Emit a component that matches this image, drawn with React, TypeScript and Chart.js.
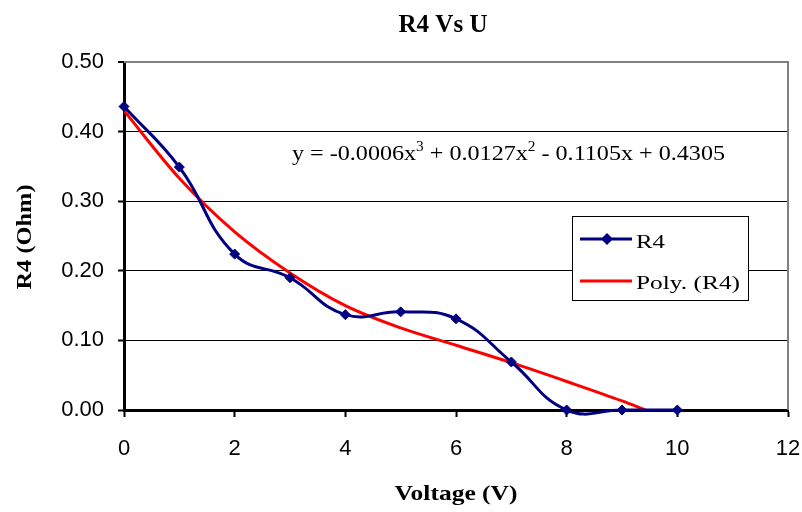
import React, { useEffect, useRef } from "react";
import { Chart, registerables } from "chart.js";

Chart.register(...registerables);

const chartTitle = "R4 Vs U";
const xAxisTitle = "Voltage (V)";
const yAxisTitle = "R4 (Ohm)";
const seriesName = "R4";
const trendName = "Poly. (R4)";
const equationParts = ["y = -0.0006x", "3", " + 0.0127x", "2", " - 0.1105x + 0.4305"];

const r4X = [0, 1, 2, 3, 4, 5, 6, 7, 8, 9, 10];
const r4Y = [0.436, 0.349, 0.224, 0.19, 0.137, 0.141, 0.131, 0.069, 0.0, 0.0, 0.0];
const polyX = [0, 1, 2, 3, 4, 5, 6, 7, 8, 9, 9.42];
const polyY = [0.43, 0.333, 0.256, 0.197, 0.15, 0.118, 0.093, 0.068, 0.041, 0.013, 0.0];

const xMin = 0, xMax = 12, xStep = 2;
const yMin = 0, yMax = 0.5, yStep = 0.1;

const NAVY = "#000080";
const RED = "#FF0000";

function fitText(ctx: CanvasRenderingContext2D, text: string, x: number, y: number, w: number, font: string, align: CanvasTextAlign) {
  ctx.save();
  ctx.font = font;
  const m = ctx.measureText(text).width;
  const s = w / m;
  ctx.translate(x, y);
  ctx.scale(s, 1);
  ctx.textAlign = align;
  ctx.textBaseline = "alphabetic";
  ctx.fillStyle = "#000";
  ctx.fillText(text, 0, 0);
  ctx.restore();
}

const decorPlugin = {
  id: "decor",
  beforeDatasetsDraw(chart: any) {
    const { ctx, chartArea } = chart;
    ctx.save();
    ctx.strokeStyle = "#808080";
    ctx.lineWidth = 2;
    ctx.beginPath();
    ctx.moveTo(chartArea.left, chartArea.top);
    ctx.lineTo(chartArea.right, chartArea.top);
    ctx.lineTo(chartArea.right, chartArea.bottom);
    ctx.stroke();
    ctx.restore();
  },
  afterDatasetsDraw(chart: any) {
    const { ctx } = chart;
    // legend
    ctx.save();
    const bx = 572, by = 216, bw = 176, bh = 84;
    ctx.fillStyle = "#fff";
    ctx.fillRect(bx, by, bw, bh);
    ctx.strokeStyle = "#000";
    ctx.lineWidth = 1;
    ctx.strokeRect(bx + 0.5, by + 0.5, bw, bh);
    ctx.lineWidth = 3;
    ctx.strokeStyle = NAVY;
    ctx.beginPath();
    ctx.moveTo(580, 239);
    ctx.lineTo(632, 239);
    ctx.stroke();
    ctx.fillStyle = NAVY;
    ctx.beginPath();
    ctx.moveTo(607, 233);
    ctx.lineTo(613, 239);
    ctx.lineTo(607, 245);
    ctx.lineTo(601, 239);
    ctx.closePath();
    ctx.fill();
    ctx.strokeStyle = RED;
    ctx.beginPath();
    ctx.moveTo(580, 281);
    ctx.lineTo(632, 281);
    ctx.stroke();
    ctx.restore();
    fitText(ctx, seriesName, 636, 248, 29, "19px 'Liberation Serif'", "left");
    fitText(ctx, trendName, 636, 289, 104, "19px 'Liberation Serif'", "left");

    // equation
    ctx.save();
    const big = "22px 'Liberation Serif'";
    const small = "14px 'Liberation Serif'";
    let total = 0;
    const widths: number[] = [];
    equationParts.forEach((p, i) => {
      ctx.font = i % 2 === 1 ? small : big;
      const w = ctx.measureText(p).width;
      widths.push(w);
      total += w;
    });
    const s = 433 / total;
    ctx.translate(292, 160);
    ctx.scale(s, 1);
    ctx.fillStyle = "#000";
    ctx.textBaseline = "alphabetic";
    let cx = 0;
    equationParts.forEach((p, i) => {
      const sup = i % 2 === 1;
      ctx.font = sup ? small : big;
      ctx.fillText(p, cx, sup ? -9 : 0);
      cx += widths[i];
    });
    ctx.restore();
  },
  afterDraw(chart: any) {
    const { ctx } = chart;
    fitText(ctx, chartTitle, 443, 32, 89, "bold 25px 'Liberation Serif'", "center");
    fitText(ctx, xAxisTitle, 456, 500, 123, "bold 22px 'Liberation Serif'", "center");
    ctx.save();
    ctx.translate(31, 237);
    ctx.rotate(-Math.PI / 2);
    fitText(ctx, yAxisTitle, 0, 0, 105, "bold 22px 'Liberation Serif'", "center");
    ctx.restore();
  },
};

export default function App() {
  const ref = useRef<HTMLCanvasElement | null>(null);
  useEffect(() => {
    document.body.style.margin = "0";
    const canvas = ref.current!;
    const chart = new Chart(canvas, {
      type: "line",
      data: {
        datasets: [
          {
            label: seriesName,
            data: r4X.map((x, i) => ({ x, y: r4Y[i] })),
            borderColor: NAVY,
            backgroundColor: NAVY,
            borderWidth: 3,
            pointStyle: "rectRot",
            pointRadius: 5,
            pointBorderWidth: 1,
            tension: 0.45,
            clip: false as any,
            order: 1,
          },
          {
            label: trendName,
            data: polyX.map((x, i) => ({ x, y: polyY[i] })),
            borderColor: RED,
            backgroundColor: RED,
            borderWidth: 3,
            pointRadius: 0,
            cubicInterpolationMode: "monotone",
            order: 2,
          },
        ],
      },
      options: {
        animation: false,
        responsive: false,
        maintainAspectRatio: false,
        layout: { padding: { left: 0, top: 62, right: 14, bottom: 0 } },
        elements: { line: { capBezierPoints: false } as any },
        plugins: {
          legend: { display: false },
          title: { display: false },
          tooltip: { enabled: false },
        },
        scales: {
          x: {
            type: "linear",
            min: xMin,
            max: xMax,
            border: { color: "#000", width: 3 },
            grid: {
              drawOnChartArea: false,
              drawTicks: true,
              tickLength: 7,
              tickWidth: 2,
              tickColor: "#000",
            },
            ticks: {
              stepSize: xStep,
              color: "#000",
              padding: 19,
              font: { family: "'Liberation Sans'", size: 22 },
              callback: (v: any) => String(v),
            },
            afterFit: (scale: any) => {
              scale.height = 102;
              scale.paddingLeft = 0;
              scale.paddingRight = 0;
            },
          },
          y: {
            type: "linear",
            min: yMin,
            max: yMax,
            border: { color: "#000", width: 3 },
            grid: {
              color: (c: any) => (c.tick && Math.abs(c.tick.value - yMax) < 1e-9 ? "#808080" : "#000"),
              lineWidth: (c: any) => (c.tick && Math.abs(c.tick.value - yMax) < 1e-9 ? 2 : 1),
              drawTicks: true,
              tickLength: 6,
              tickWidth: 2,
              tickColor: "#000",
            },
            ticks: {
              stepSize: yStep,
              color: "#000",
              padding: 14,
              font: { family: "'Liberation Sans'", size: 22 },
              callback: (v: any) => Number(v).toFixed(2),
            },
            afterFit: (scale: any) => {
              scale.width = 124;
              scale.paddingTop = 0;
              scale.paddingBottom = 0;
            },
          },
        },
      },
      plugins: [decorPlugin],
    });
    return () => chart.destroy();
  }, []);
  return (
    <div style={{ width: 802, height: 512, background: "#fff" }}>
      <canvas ref={ref} width={802} height={512} style={{ display: "block", width: 802, height: 512 }} />
    </div>
  );
}
